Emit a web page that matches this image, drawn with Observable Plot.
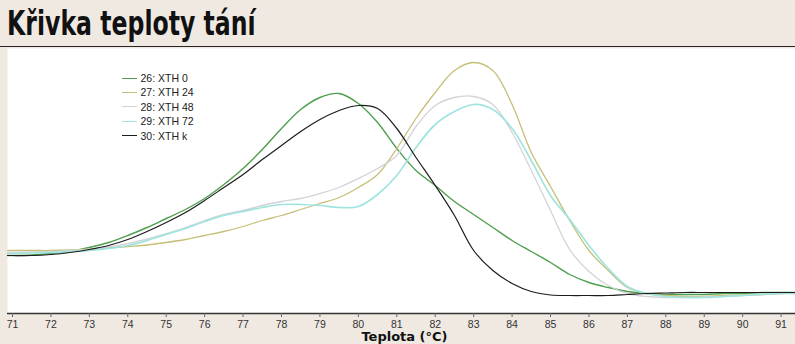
<!DOCTYPE html>
<html><head><meta charset="utf-8">
<script src="https://cdn.jsdelivr.net/npm/d3@7"></script>
<script src="https://cdn.jsdelivr.net/npm/@observablehq/plot@0.6"></script>
<style>
html,body{margin:0;padding:0;background:#efe9e2;}
#wrap{position:relative;width:795px;height:344px;overflow:hidden;background:#efe9e2;}
#title{height:44px;padding-top:2px;border-bottom:1.5px solid #262626;background:#f0e9e2;
  line-height:44px;padding-left:7px;box-sizing:content-box;white-space:nowrap;}
#title span{display:inline-block;font-family:"DejaVu Sans",sans-serif;font-weight:bold;font-size:33px;
  color:#111;transform:scaleX(0.715);transform-origin:0 50%;}
#legend{position:absolute;left:122px;top:71px;font:10.5px "Liberation Sans",Arial,sans-serif;color:#222;}
#legend .row{height:14.4px;line-height:14.4px;display:flex;align-items:center;white-space:nowrap;}
#legend .sw{width:15px;height:0;border-top:1.5px solid;margin-right:3.5px;}
svg g[aria-label="text"] text{font-family:"DejaVu Sans",sans-serif;font-weight:bold;font-size:13px;fill:#111;}
</style>
</head><body>
<div id="wrap">
  <div id="title"><span>Křivka teploty tání</span></div>
  <div id="chart"></div>
  <div id="legend"></div>
</div>
<script>
// Temperatures (°C)
const temps = [70.87, 71, 71.5, 72, 72.5, 73, 73.5, 74, 74.5, 75, 75.5, 76, 76.5, 77, 77.5, 78, 78.5, 79, 79.5, 80, 80.5, 81, 81.5, 82, 82.5, 83, 83.5, 84, 84.5, 85, 85.5, 86, 86.5, 87, 87.5, 88, 88.5, 89, 89.5, 90, 90.5, 91, 91.37];
// Series names
const seriesNames = ["26: XTH 0", "27: XTH 24", "28: XTH 48", "29: XTH 72", "30: XTH k"];
// Series values (arbitrary fluorescence derivative units)
const xth0  = [58, 58, 58.5, 60, 62, 66, 71, 78, 86, 95, 104, 115, 129, 145, 164, 185, 204, 216, 220, 210, 191, 165, 143, 128, 112, 99, 86, 73, 62, 51, 39, 31, 26, 22, 20, 19, 19, 19, 20, 20, 21, 21, 21];
const xth24 = [63, 63, 63, 63, 63.5, 64.5, 65.5, 67, 68.5, 71, 74, 78, 82, 87, 93, 98, 104, 110, 116, 126, 139, 165, 195, 221, 243, 251, 243, 209, 161, 127, 93, 63, 43, 26, 20, 18, 17, 17, 18, 18.5, 19, 20, 20];
const xth48 = [61, 61, 61.5, 62, 63, 64, 66.5, 70, 74.5, 80, 86, 93, 99, 103, 108, 112, 115, 120, 126, 135, 145, 158, 187, 208, 216, 217, 209, 181, 143, 103, 64, 42, 28, 20, 17, 16, 16, 16.5, 17, 18, 19, 20, 20];
const xth72 = [60, 60, 60.5, 61, 62, 63, 65, 68, 73, 79, 85, 92, 98, 102, 106, 109, 109, 108, 106, 107, 119, 138, 166, 189, 202, 209, 204, 185, 153, 118, 94, 68, 45, 27, 20, 17, 16, 16, 17, 18, 19, 20, 20];
const xthk  = [58, 58, 58, 59, 61, 64, 68, 74, 82, 91, 101, 113, 126, 139, 154, 168, 182, 194, 203, 208, 205, 185, 156, 128, 98, 63, 43, 30, 22, 18.5, 18, 18, 18, 19, 20, 20.5, 21, 21, 21, 21, 21, 21, 21];
// Axis ticks and title
const xTicks = [71, 72, 73, 74, 75, 76, 77, 78, 79, 80, 81, 82, 83, 84, 85, 86, 87, 88, 89, 90, 91];
const xLabel = ["Teplota (°C)"];

const seriesValues = [xth0, xth24, xth48, xth72, xthk];
const colors = ["#4d9f4d", "#c6bf78", "#d3d3d8", "#9fe4df", "#1c1c1c"];
const widths = [1.4, 1.3, 1.3, 1.7, 1.2];

const rows = [];
seriesNames.forEach((s, i) => {
  temps.forEach((t, j) => rows.push({s, t, v: seriesValues[i][j], w: widths[i]}));
});

const chart = Plot.plot({
  width: 795, height: 297,
  marginTop: 1, marginBottom: 31, marginLeft: 7, marginRight: 0,
  style: {background: "transparent", fontFamily: "'Liberation Sans', Arial, sans-serif", fontSize: "10.5px", color: "#333", overflow: "visible"},
  x: {domain: [70.87, 91.375]},
  y: {domain: [0, 265], axis: null},
  color: {domain: seriesNames, range: colors},
  marks: [
    Plot.frame({fill: "white", stroke: "none"}),
    Plot.line(rows, {x: "t", y: "v", z: "s", stroke: "s", strokeWidth: "w", curve: "catmull-rom"}),
    Plot.ruleY([0], {stroke: "#333", strokeWidth: 1.4}),
    Plot.axisX({ticks: xTicks, tickFormat: d => String(d), tickSize: 4, tickPadding: 3, stroke: "#666", label: null}),
    Plot.text(xLabel, {text: d => d, frameAnchor: "bottom", lineAnchor: "middle", dy: 23, dx: 3})
  ]
});
document.getElementById("chart").appendChild(chart);

const legend = document.getElementById("legend");
seriesNames.forEach((s, i) => {
  const row = document.createElement("div");
  row.className = "row";
  const sw = document.createElement("span");
  sw.className = "sw";
  sw.style.borderTopColor = colors[i];
  const tx = document.createElement("span");
  tx.textContent = s;
  row.appendChild(sw); row.appendChild(tx);
  legend.appendChild(row);
});
</script>
</body></html>
